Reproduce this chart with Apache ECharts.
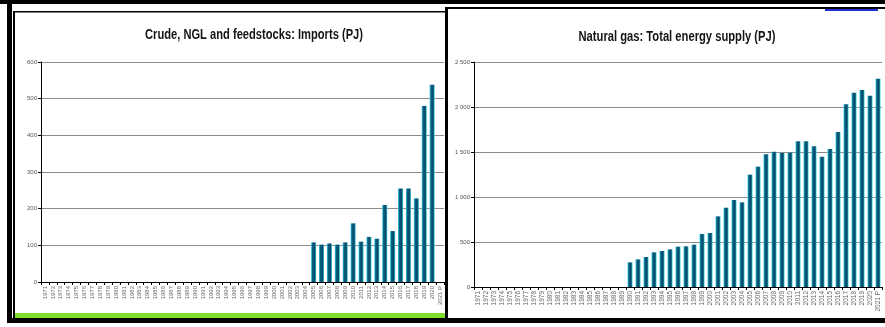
<!DOCTYPE html>
<html><head><meta charset="utf-8">
<script src="https://cdn.jsdelivr.net/npm/echarts@6/dist/echarts.min.js"></script>
<style>html,body{margin:0;padding:0;background:#fff}#c{width:885px;height:327px}</style>
</head><body><div id="c"></div>
<script>
var years = ['1971','1972','1973','1974','1975','1976','1977','1978','1979','1980','1981','1982','1983','1984','1985','1986','1987','1988','1989','1990','1991','1992','1993','1994','1995','1996','1997','1998','1999','2000','2001','2002','2003','2004','2005','2006','2007','2008','2009','2010','2011','2012','2013','2014','2015','2016','2017','2018','2019','2020','2021 P'];
var crudeImports = [0,0,0,0,0,0,0,0,0,0,0,0,0,0,0,0,0,0,0,0,0,0,0,0,0,0,0,0,0,0,0,0,0,0,108,102,105,102,108,160,110,123,118,210,139,255,255,228,480,538,0];
var gasSupply = [0,0,0,0,0,0,0,0,0,0,0,0,0,0,0,0,0,0,0,274,307,333,385,400,418,448,452,470,589,600,785,881,967,941,1248,1337,1474,1504,1489,1493,1619,1619,1563,1448,1533,1722,2030,2159,2189,2126,2315];
var crudeTicks = {min:0, max:600, interval:100};
var gasTicks = {min:0, max:2500, interval:500};
var titles = ['Crude, NGL and feedstocks: Imports (PJ)', 'Natural gas: Total energy supply (PJ)'];

var chart = echarts.init(document.getElementById('c'), null, {renderer:'canvas'});
var barColor = new echarts.graphic.LinearGradient(0,0,1,0,[
  {offset:0,color:'#3fd0ec'},{offset:0.28,color:'#0a5f7e'},{offset:0.72,color:'#064a66'},{offset:1,color:'#3fd0ec'}]);
var titleFont = "bold 14px 'Liberation Sans', Arial, sans-serif";
var mctx = document.createElement('canvas').getContext('2d');
mctx.font = titleFont;
function titleText(txt, cx, cy, targetW){
  var w = mctx.measureText(txt).width;
  return {type:'text', x:cx, y:cy, scaleX: targetW / w, scaleY:1, z:5,
    style:{text:txt, font:titleFont, fill:'#151515', align:'center', verticalAlign:'middle'}};
}
function xAxis(gi, fs){
  return {type:'category', gridIndex:gi, data:years, boundaryGap:true,
    axisLine:{lineStyle:{color:'#000',width:1}},
    axisTick:{show:true, length:3, lineStyle:{color:'#000'}},
    axisLabel:{rotate:90, fontSize:fs, color:'#666', interval:0, margin:4, fontFamily:'Liberation Sans,Arial,sans-serif'}};
}
function yAxis(gi, t, fmt){
  return {type:'value', gridIndex:gi, min:t.min, max:t.max, interval:t.interval,
    axisLine:{show:true, lineStyle:{color:'#000',width:1}},
    axisTick:{show:true, length:3, lineStyle:{color:'#000'}},
    splitLine:{lineStyle:{color:'#8c8c8c',width:1}},
    axisLabel:{fontSize:6, color:'#555', margin:4, formatter:fmt, fontFamily:'Liberation Sans,Arial,sans-serif'}};
}
function spaced(v){ var s=String(v); return s.length>3 ? s.slice(0,s.length-3)+' '+s.slice(-3) : s; }

chart.setOption({
  animation:false,
  backgroundColor:'#fff',
  grid:[
    {left:41, right:441, top:62, bottom:45},
    {left:474, right:3, top:62, bottom:40}
  ],
  xAxis:[xAxis(0,6), xAxis(1,6.5)],
  yAxis:[yAxis(0,crudeTicks,function(v){return v;}), yAxis(1,gasTicks,spaced)],
  series:[
    {type:'bar', xAxisIndex:0, yAxisIndex:0, data:crudeImports, barWidth:5, itemStyle:{color:barColor}},
    {type:'bar', xAxisIndex:1, yAxisIndex:1, data:gasSupply, barWidth:5, itemStyle:{color:barColor}}
  ],
  graphic:[
    {type:'rect', z:-1, shape:{x:0,y:0,width:885,height:4}, style:{fill:'#000'}},
    {type:'rect', z:-1, shape:{x:7,y:0,width:5,height:323}, style:{fill:'#000'}},
    {type:'rect', z:-1, shape:{x:13,y:11,width:2,height:308}, style:{fill:'#000'}},
    {type:'rect', z:-1, shape:{x:13,y:11,width:433,height:1.5}, style:{fill:'#000'}},
    {type:'rect', z:-1, shape:{x:15,y:313,width:431,height:5}, style:{fill:'#7edc2a'}},
    {type:'rect', z:-1, shape:{x:7,y:318,width:878,height:5}, style:{fill:'#000'}},
    {type:'rect', z:-1, shape:{x:445,y:7,width:3,height:313}, style:{fill:'#000'}},
    {type:'rect', z:-1, shape:{x:445,y:7,width:440,height:2}, style:{fill:'#000'}},
    {type:'rect', z:-1, shape:{x:825,y:9,width:53,height:2}, style:{fill:'#2030d8'}},
    titleText(titles[0], 254, 35, 218),
    titleText(titles[1], 677, 37, 197)
  ]
});
</script></body></html>
